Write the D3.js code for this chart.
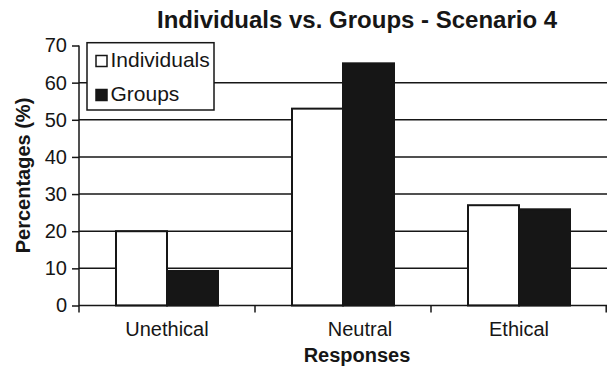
<!DOCTYPE html>
<html>
<head>
<meta charset="utf-8">
<script src="https://cdn.jsdelivr.net/npm/d3@7"></script>
<style>
  html, body { margin: 0; padding: 0; background: #fff; }
  svg { display: block; font-family: "Liberation Sans", Arial, Helvetica, sans-serif; }
</style>
</head>
<body>
<svg id="chart" width="607" height="367"></svg>
<script>
// Survey responses per category, in percent
const categories = ["Unethical", "Neutral", "Ethical"];
const seriesNames = ["Individuals", "Groups"];
const individuals = [20, 53, 27];
const groups = [9.3, 65.2, 25.9];
const yTicks = [0, 10, 20, 30, 40, 50, 60, 70];

const ink = "#161616";
const svg = d3.select("#chart");

const plot = { left: 79, right: 607, top: 45.5, bottom: 305.5 };

const x = d3.scaleBand().domain(categories).range([plot.left, plot.right]).padding(0);
const xInner = d3.scaleBand().domain(seriesNames).range([0, x.bandwidth()])
  .paddingInner(0).paddingOuter(0.7255);
const y = d3.scaleLinear().domain([0, 70]).range([plot.bottom, plot.top]);

const rows = categories.map((c, i) => ({ category: c, values: [individuals[i], groups[i]] }));
const fills = { Individuals: "#ffffff", Groups: ink };

// Horizontal gridlines (bars are painted over them)
svg.append("g").selectAll("line")
  .data(yTicks.filter(t => t > 0 && t < 70))
  .join("line")
  .attr("x1", plot.left).attr("x2", plot.right)
  .attr("y1", d => y(d)).attr("y2", d => y(d))
  .attr("stroke", ink).attr("stroke-width", 1.5);

// Bars
svg.append("g").selectAll("g")
  .data(rows)
  .join("g")
  .attr("transform", d => `translate(${x(d.category)},0)`)
  .selectAll("rect")
  .data(d => d.values.map((v, j) => ({ series: seriesNames[j], value: v })))
  .join("rect")
  .attr("x", d => xInner(d.series))
  .attr("width", xInner.bandwidth())
  .attr("y", d => y(d.value))
  .attr("height", d => y(0) - y(d.value))
  .attr("fill", d => fills[d.series])
  .attr("stroke", ink).attr("stroke-width", 2);

// Y axis
const yAxis = svg.append("g")
  .attr("transform", `translate(${plot.left},0)`)
  .call(d3.axisLeft(y).tickValues(yTicks).tickSize(7).tickPadding(5).tickSizeOuter(0));
yAxis.select(".domain").remove();
yAxis.selectAll("line").attr("stroke", ink).attr("stroke-width", 1.5);
yAxis.selectAll("text").attr("font-size", 20).attr("fill", ink);
yAxis.append("line")
  .attr("x1", 0).attr("x2", 0)
  .attr("y1", plot.top).attr("y2", plot.bottom + 7)
  .attr("stroke", ink).attr("stroke-width", 1.5);

// X axis: baseline, boundary ticks, centered category labels
const xAxis = svg.append("g").attr("transform", `translate(0,${plot.bottom})`);
xAxis.append("line")
  .attr("x1", plot.left).attr("x2", plot.right)
  .attr("stroke", ink).attr("stroke-width", 1.5);
xAxis.selectAll("line.tick")
  .data(categories.slice(1).concat([null]))
  .join("line")
  .attr("class", "tick")
  .attr("x1", d => d === null ? plot.right - 0.8 : x(d))
  .attr("x2", d => d === null ? plot.right - 0.8 : x(d))
  .attr("y1", 0).attr("y2", 7)
  .attr("stroke", ink).attr("stroke-width", 1.5);
xAxis.selectAll("text")
  .data(categories)
  .join("text")
  .attr("x", d => x(d) + x.bandwidth() / 2)
  .attr("dx", d => d === "Neutral" ? 17 : 0)   // Neutral label sits right of its group center
  .attr("y", 30.5)
  .attr("text-anchor", "middle")
  .attr("font-size", 20)
  .attr("fill", ink)
  .text(d => d);

// Titles
svg.append("text")
  .attr("x", 157).attr("y", 27.5)
  .attr("font-size", 24).attr("font-weight", "bold").attr("fill", ink)
  .text("Individuals vs. Groups - Scenario 4");

svg.append("text")
  .attr("x", 357).attr("y", 361.5)
  .attr("text-anchor", "middle")
  .attr("font-size", 20).attr("font-weight", "bold").attr("fill", ink)
  .text("Responses");

svg.append("text")
  .attr("transform", `translate(30,${(plot.top + plot.bottom) / 2}) rotate(-90)`)
  .attr("text-anchor", "middle")
  .attr("font-size", 20).attr("font-weight", "bold").attr("fill", ink)
  .text("Percentages (%)");

// Legend
const legend = svg.append("g").attr("transform", "translate(87,42.7)");
legend.append("rect")
  .attr("width", 127).attr("height", 67.3)
  .attr("fill", "#fff").attr("stroke", ink).attr("stroke-width", 1.5);
const item = legend.selectAll("g.item")
  .data(seriesNames)
  .join("g")
  .attr("class", "item")
  .attr("transform", (d, i) => `translate(0,${23.8 + i * 34})`);
item.append("rect")
  .attr("x", 9).attr("y", -11).attr("width", 11).attr("height", 11)
  .attr("fill", d => fills[d]).attr("stroke", ink).attr("stroke-width", 1.5);
item.append("text")
  .attr("x", 23.5).attr("y", 0)
  .attr("font-size", 21).attr("fill", ink)
  .text(d => d);
</script>
</body>
</html>
